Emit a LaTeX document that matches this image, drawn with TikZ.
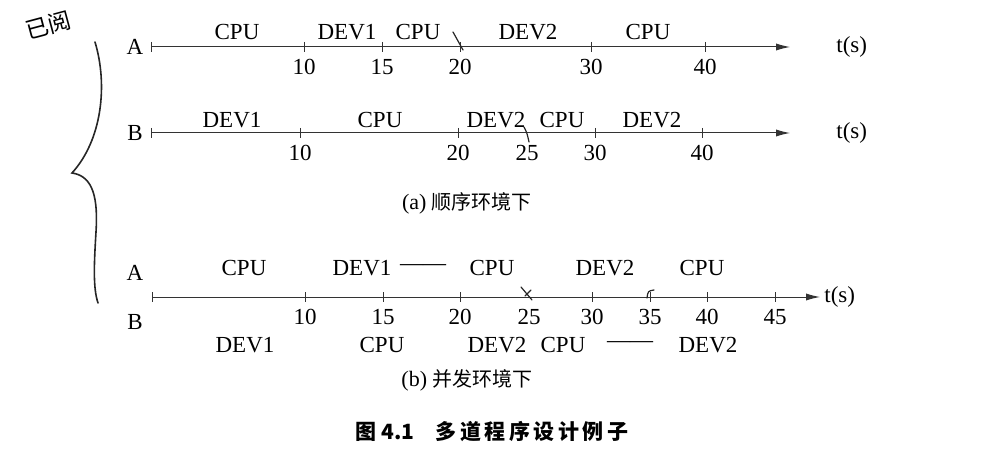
\documentclass[tikz,border=0pt]{standalone}
\usepackage{fontspec}
\setmainfont{Liberation Serif}
\newfontfamily\cjk{Noto Sans CJK SC}
\usetikzlibrary{arrows.meta, positioning}

\begin{document}
\begin{tikzpicture}[
    x=0.5pt, y=-0.5pt,
    axis/.style={-{Latex[length=7pt, width=3.6pt]}, line width=0.5pt, black!80},
    tick/.style={line width=0.5pt, black!80},
    seg/.style={font=\fontsize{11.5}{13}\selectfont, inner sep=1pt},
    num/.style={font=\fontsize{11.5}{13}\selectfont, inner sep=1pt},
    proc/.style={font=\fontsize{11.5}{13}\selectfont, inner sep=1pt},
    subcap/.style={font=\fontsize{11}{13}\selectfont, inner sep=1pt},
    pencil/.style={line width=0.8pt, black!85, line cap=round},
]

\useasboundingbox (0,0) rectangle (988,470);

% === (a) sequential: program A ===
\node[proc] (procA) at (135,47) {A};
\coordinate (a0) at (151,47);
\coordinate (aend) at (790,47);
\draw[axis] (a0) -- (aend);
\draw[tick] ([yshift=2.5pt]a0) -- ([yshift=-2.5pt]a0);
\node[num, right=22pt of aend] (tA) {t(s)};
\foreach \x/\v in {304/10, 382/15, 460/20, 591/30, 705/40} {
    \coordinate (a\v) at (\x,47);
    \draw[tick] ([yshift=2.5pt]a\v) -- ([yshift=-2.5pt]a\v);
    \node[num] (na\v) at (\x,67) {\v};
}
\node[seg] (cpuA1) at (237,32) {CPU};
\node[seg] (devA1) at (347,32) {DEV1};
\node[seg] (cpuA2) at (418,32) {CPU};
\node[seg] (devA2) at (528,32) {DEV2};
\node[seg] (cpuA3) at (648,32) {CPU};

% === (a) sequential: program B ===
\node[proc] (procB) at (135,133) {B};
\coordinate (b0) at (151,133);
\coordinate (bend) at (790,133);
\draw[axis] (b0) -- (bend);
\draw[tick] ([yshift=2.5pt]b0) -- ([yshift=-2.5pt]b0);
\node[num, right=22pt of bend] (tB) {t(s)};
\foreach \x/\v in {300/10, 458/20, 595/30, 702/40} {
    \coordinate (b\v) at (\x,133);
    \draw[tick] ([yshift=2.5pt]b\v) -- ([yshift=-2.5pt]b\v);
    \node[num] (nb\v) at (\x,153) {\v};
}
\node[num] (nb25) at (527,153) {25};
\node[seg] (devB1) at (232,120) {DEV1};
\node[seg] (cpuB1) at (380,120) {CPU};
\node[seg] (devB2) at (496,120) {DEV2};
\node[seg] (cpuB2) at (562,120) {CPU};
\node[seg] (devB3) at (652,120) {DEV2};

\node[subcap] (capa) at (467,203) {(a) {\cjk\fontsize{10}{12}\selectfont 顺序环境下}};

% === (b) concurrent: shared axis ===
\node[proc] (procA2) at (135,273) {A};
\node[proc] (procB2) at (135,322) {B};
\coordinate (c0) at (152,297);
\coordinate (cend) at (820,297);
\draw[axis] (c0) -- (cend);
\draw[tick] ([yshift=2.5pt]c0) -- ([yshift=-2.5pt]c0);
\node[num, right=1pt of cend] (tC) {t(s)};
\foreach \x/\v in {305/10, 383/15, 460/20, 592/30, 650/35, 707/40, 775/45} {
    \coordinate (c\v) at (\x,297);
    \draw[tick] ([yshift=2.5pt]c\v) -- ([yshift=-2.5pt]c\v);
    \node[num] (nc\v) at (\x,317) {\v};
}
\node[num] (nc25) at (529,317) {25};

% A above the axis
\node[seg] (cpuC1) at (244,268) {CPU};
\node[seg] (devC1) at (362,268) {DEV1};
\node[seg] (waitC1) at (423,268) {------};
\node[seg] (cpuC2) at (492,268) {CPU};
\node[seg] (devC2) at (605,268) {DEV2};
\node[seg] (cpuC3) at (702,268) {CPU};

% B below the axis
\node[seg] (devD1) at (245,345) {DEV1};
\node[seg] (cpuD1) at (382,345) {CPU};
\node[seg] (devD2) at (497,345) {DEV2};
\node[seg] (cpuD2) at (563,345) {CPU};
\node[seg] (waitD1) at (630,345) {------};
\node[seg] (devD3) at (708,345) {DEV2};

\node[subcap] (capb) at (467,380) {(b) {\cjk\fontsize{10}{12}\selectfont 并发环境下}};

% Figure caption
\node[font=\cjk\bfseries\fontsize{10.5}{12}\selectfont, inner sep=1pt] (figcap) at (492,432)
    {图 4.1\quad 多\,道\,程\,序\,设\,计\,例\,子};

% Pencil marks
\node[font=\cjk\fontsize{11.5}{13}\selectfont, rotate=15, inner sep=0pt] (note) at (48,25) {已阅};
\draw[pencil] (95,42) .. controls (108,85) and (102,140) .. (72,173)
    .. controls (94,176) and (98,200) .. (96,232)
    .. controls (94,265) and (93,288) .. (98,303);
\draw[pencil, line width=0.6pt] (453,32) -- (463,50);
\draw[pencil, line width=0.6pt] (524,127) .. controls (527,133) .. (529,142);
\draw[pencil, line width=0.6pt] (521,287) -- (532,300);
\draw[pencil, line width=0.6pt] (525,296) -- (531,290);
\draw[pencil, line width=0.6pt] (647,298) .. controls (648,291) .. (654,290);

\end{tikzpicture}
\end{document}
